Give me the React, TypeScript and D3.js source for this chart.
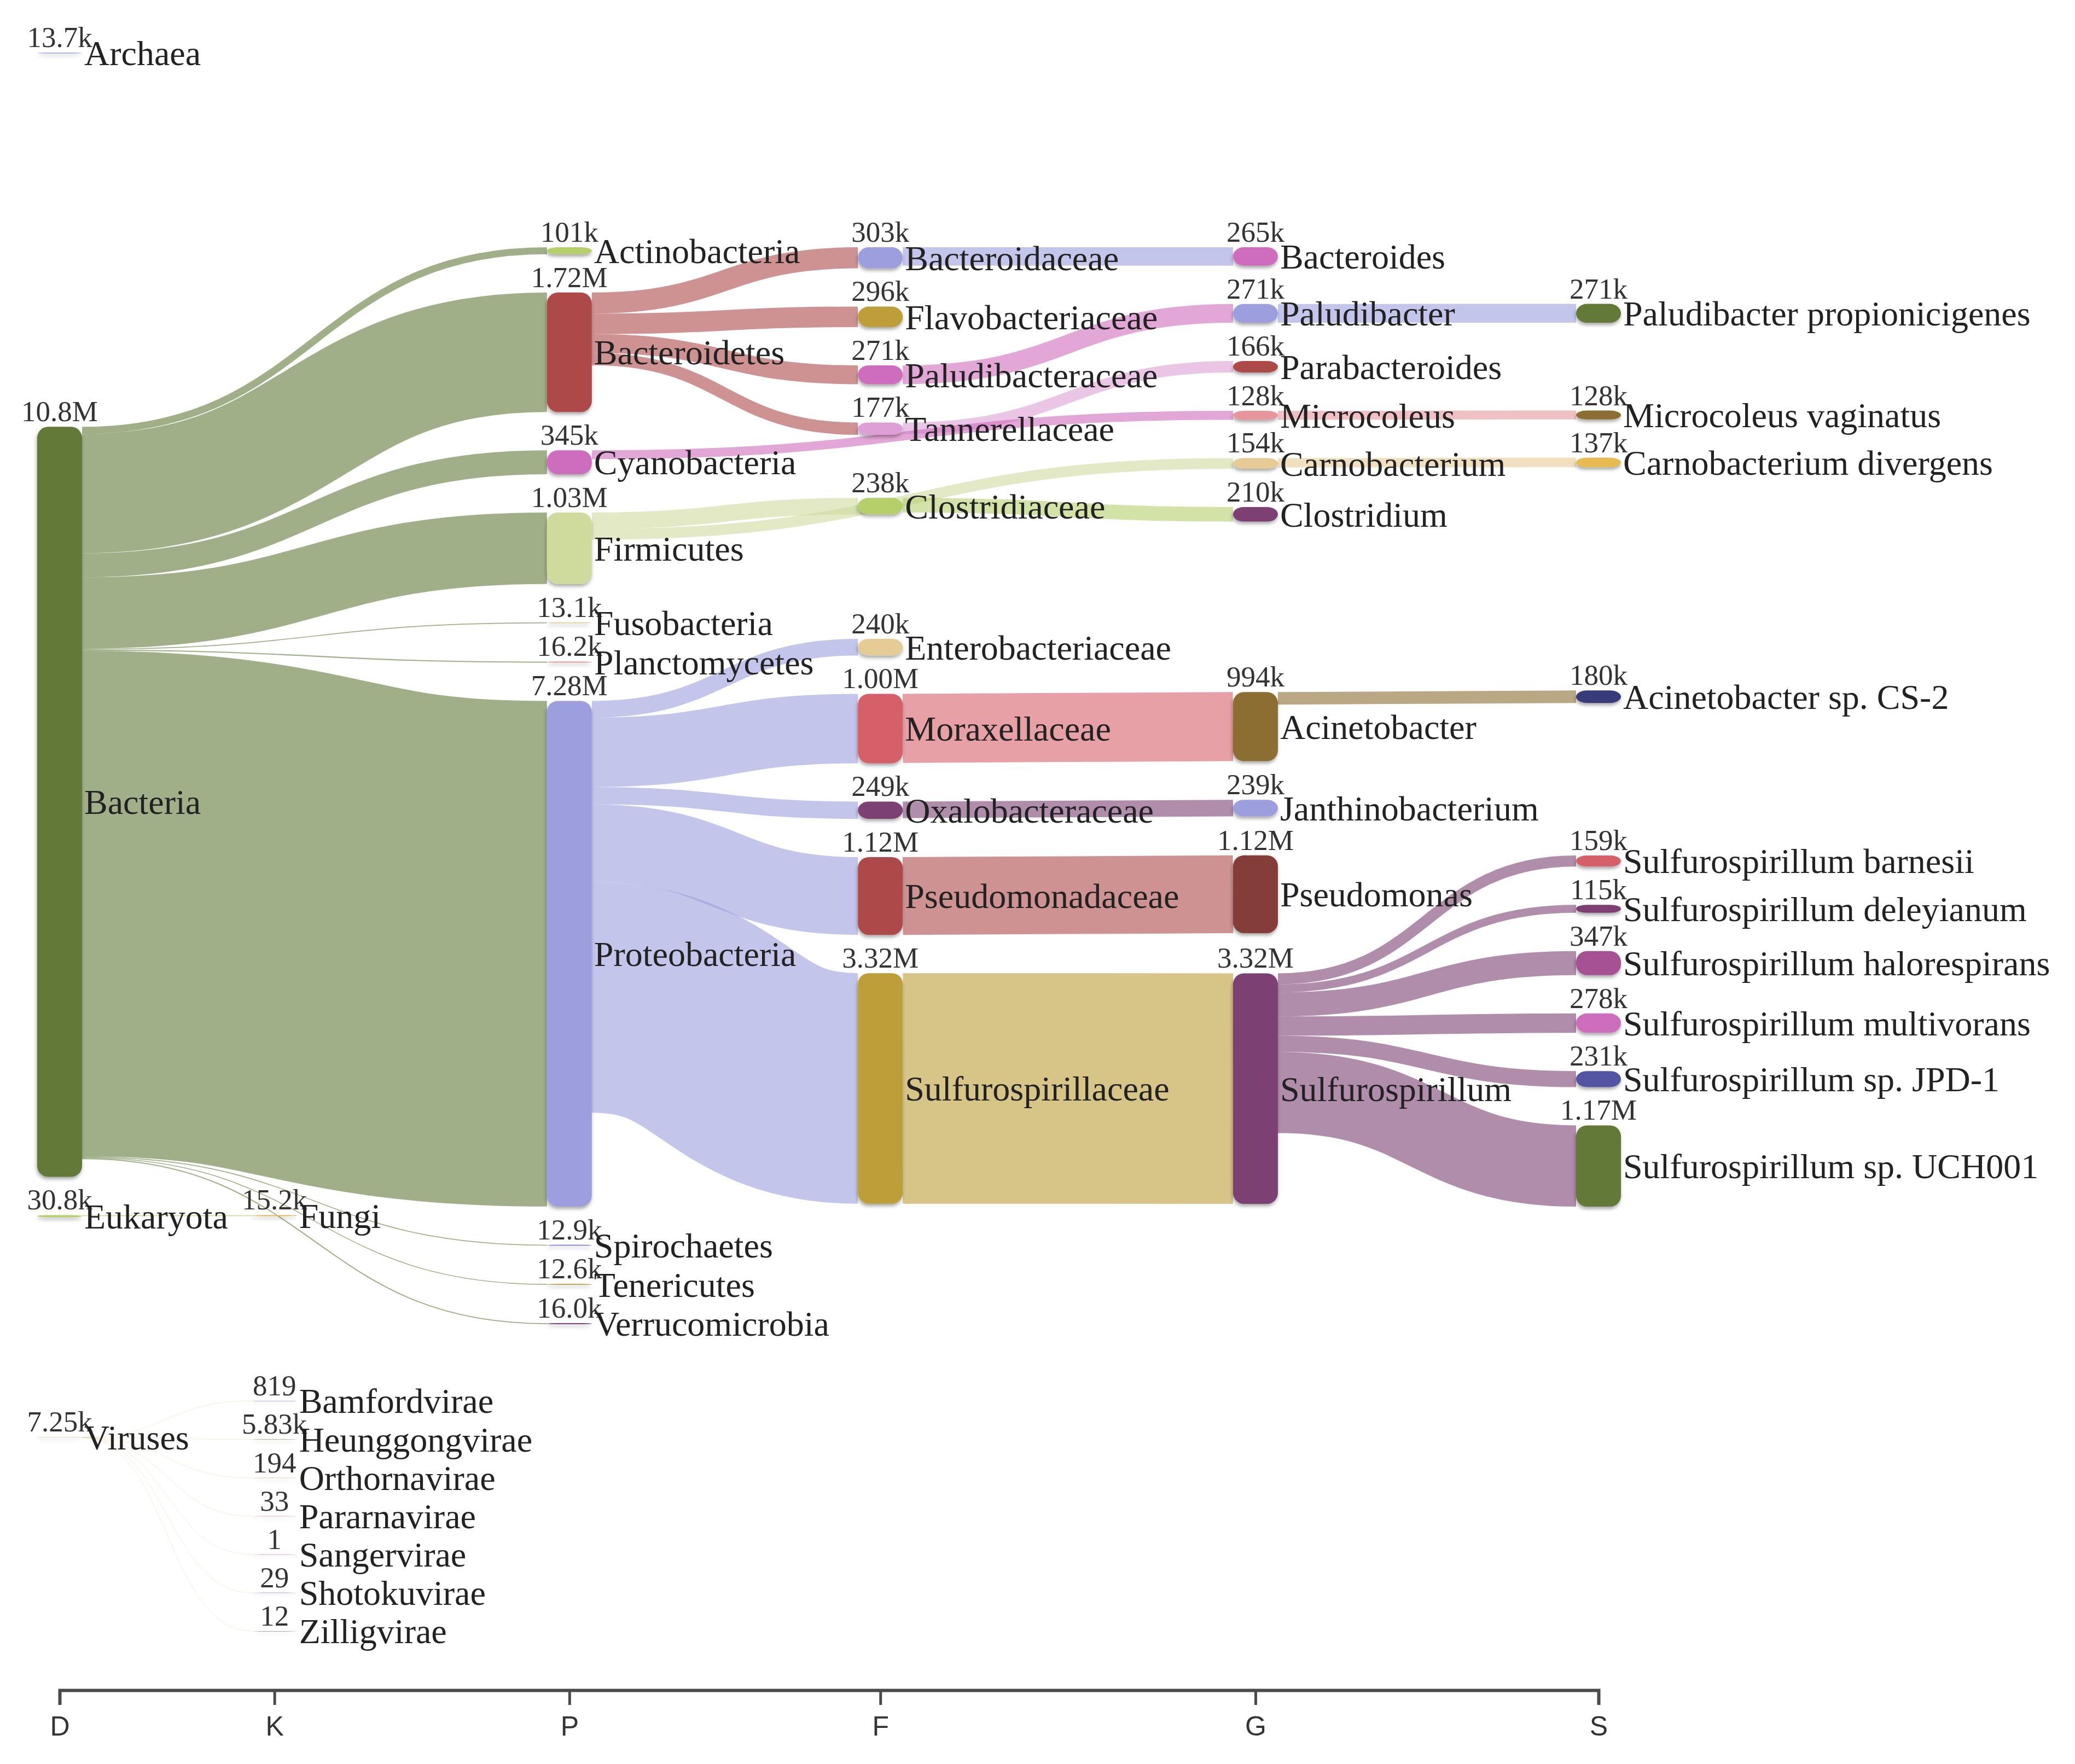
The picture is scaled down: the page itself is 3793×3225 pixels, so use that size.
import { useEffect, useMemo, useRef } from "react";
import * as d3 from "d3";

// Reads per taxon, one list per rank (Pavian-style Kraken report sankey).
const ranks = ["D", "K", "P", "F", "G", "S"];

const domainNames = ["Archaea", "Bacteria", "Eukaryota", "Viruses"];
const domainReads = [13.7e3, 10.8e6, 30.8e3, 7.25e3];

const kingdomNames = [
  "Fungi",
  "Bamfordvirae",
  "Heunggongvirae",
  "Orthornavirae",
  "Pararnavirae",
  "Sangervirae",
  "Shotokuvirae",
  "Zilligvirae",
];
const kingdomReads = [15.2e3, 819, 5.83e3, 194, 33, 1, 29, 12];
const kingdomParents = ["Eukaryota", "Viruses", "Viruses", "Viruses", "Viruses", "Viruses", "Viruses", "Viruses"];

const phylumNames = [
  "Actinobacteria",
  "Bacteroidetes",
  "Cyanobacteria",
  "Firmicutes",
  "Fusobacteria",
  "Planctomycetes",
  "Proteobacteria",
  "Spirochaetes",
  "Tenericutes",
  "Verrucomicrobia",
];
const phylumReads = [101e3, 1.72e6, 345e3, 1.03e6, 13.1e3, 16.2e3, 7.28e6, 12.9e3, 12.6e3, 16.0e3];
const phylumParents = phylumNames.map(() => "Bacteria");

const familyNames = [
  "Bacteroidaceae",
  "Flavobacteriaceae",
  "Paludibacteraceae",
  "Tannerellaceae",
  "Clostridiaceae",
  "Enterobacteriaceae",
  "Moraxellaceae",
  "Oxalobacteraceae",
  "Pseudomonadaceae",
  "Sulfurospirillaceae",
];
const familyReads = [303e3, 296e3, 271e3, 177e3, 238e3, 240e3, 1.0e6, 249e3, 1.12e6, 3.32e6];
const familyParents = [
  "Bacteroidetes",
  "Bacteroidetes",
  "Bacteroidetes",
  "Bacteroidetes",
  "Firmicutes",
  "Proteobacteria",
  "Proteobacteria",
  "Proteobacteria",
  "Proteobacteria",
  "Proteobacteria",
];

const genusNames = [
  "Bacteroides",
  "Paludibacter",
  "Parabacteroides",
  "Microcoleus",
  "Carnobacterium",
  "Clostridium",
  "Acinetobacter",
  "Janthinobacterium",
  "Pseudomonas",
  "Sulfurospirillum",
];
const genusReads = [265e3, 271e3, 166e3, 128e3, 154e3, 210e3, 994e3, 239e3, 1.12e6, 3.32e6];
const genusParents = [
  "Bacteroidaceae",
  "Paludibacteraceae",
  "Tannerellaceae",
  "Cyanobacteria",
  "Firmicutes",
  "Clostridiaceae",
  "Moraxellaceae",
  "Oxalobacteraceae",
  "Pseudomonadaceae",
  "Sulfurospirillaceae",
];

const speciesNames = [
  "Paludibacter propionicigenes",
  "Microcoleus vaginatus",
  "Carnobacterium divergens",
  "Acinetobacter sp. CS-2",
  "Sulfurospirillum barnesii",
  "Sulfurospirillum deleyianum",
  "Sulfurospirillum halorespirans",
  "Sulfurospirillum multivorans",
  "Sulfurospirillum sp. JPD-1",
  "Sulfurospirillum sp. UCH001",
];
const speciesReads = [271e3, 128e3, 137e3, 180e3, 159e3, 115e3, 347e3, 278e3, 231e3, 1.17e6];
const speciesParents = [
  "Paludibacter",
  "Microcoleus",
  "Carnobacterium",
  "Acinetobacter",
  "Sulfurospirillum",
  "Sulfurospirillum",
  "Sulfurospirillum",
  "Sulfurospirillum",
  "Sulfurospirillum",
  "Sulfurospirillum",
];

// old d3 category20b, which d3 v7 no longer ships
const palette = [
  "#393b79", "#5254a3", "#6b6ecf", "#9c9ede", "#637939", "#8ca252", "#b5cf6b", "#cedb9c", "#8c6d31", "#bd9e39",
  "#e7ba52", "#e7cb94", "#843c39", "#ad494a", "#d6616b", "#e7969c", "#7b4173", "#a55194", "#ce6dbd", "#de9ed6",
];
const paletteSlot: Record<string, number> = {
  Archaea: 3, Bacteria: 4, Eukaryota: 6, Viruses: 11,
  Fungi: 10, Bamfordvirae: 2, Heunggongvirae: 5, Orthornavirae: 9, Pararnavirae: 14, Sangervirae: 17, Shotokuvirae: 1, Zilligvirae: 12,
  Actinobacteria: 6, Bacteroidetes: 13, Cyanobacteria: 18, Firmicutes: 7, Fusobacteria: 11, Planctomycetes: 15,
  Proteobacteria: 3, Spirochaetes: 2, Tenericutes: 9, Verrucomicrobia: 16,
  Bacteroidaceae: 3, Flavobacteriaceae: 9, Paludibacteraceae: 18, Tannerellaceae: 19, Clostridiaceae: 6,
  Enterobacteriaceae: 11, Moraxellaceae: 14, Oxalobacteraceae: 16, Pseudomonadaceae: 13, Sulfurospirillaceae: 9,
  Bacteroides: 18, Paludibacter: 3, Parabacteroides: 13, Microcoleus: 15, Carnobacterium: 11, Clostridium: 16,
  Acinetobacter: 8, Janthinobacterium: 3, Pseudomonas: 12, Sulfurospirillum: 16,
  "Paludibacter propionicigenes": 4, "Microcoleus vaginatus": 8, "Carnobacterium divergens": 10,
  "Acinetobacter sp. CS-2": 0, "Sulfurospirillum barnesii": 14, "Sulfurospirillum deleyianum": 16,
  "Sulfurospirillum halorespirans": 17, "Sulfurospirillum multivorans": 18, "Sulfurospirillum sp. JPD-1": 1,
  "Sulfurospirillum sp. UCH001": 4,
};
const colorOf = (name: string) => palette[paletteSlot[name] ?? 0];

const W = 3793;
const H = 3225;
const nodeWidth = 82;
const nodePadding = 70;
const linkSpread = 55; // gap between sibling links when a node fans out
const packTop = 452; // top of the flow band
const scaleHeight = 1969; // the most crowded column is scaled to fill this
const packBottom = 2206; // lower bound used while packing columns
const headerY = 97; // row for domains that have nothing drawn below them
const axisY = 3090;
const iterations = 6;

// columns are spaced by the longest label they carry
const levelNames = [domainNames, kingdomNames, phylumNames, familyNames, genusNames, speciesNames];
const charGap = 4.4;
const colWeights = levelNames.slice(0, -1).map((names) => charGap + (d3.max(names, (n) => n.length) ?? 0));
const colOffsets = [0, ...Array.from(d3.cumsum(colWeights))];
const offsetX = d3.scaleLinear().domain([0, colOffsets[colOffsets.length - 1]]).range([109, 2922]);
const rankX = d3
  .scaleOrdinal<string, number>()
  .domain(ranks)
  .range(colOffsets.map((o) => offsetX(o)));

type SNode = {
  name: string;
  layer: number;
  value: number;
  index: number;
  sourceLinks: SLink[];
  targetLinks: SLink[];
  x0: number;
  x1: number;
  y0: number;
  y1: number;
};

type SLink = {
  source: SNode;
  target: SNode;
  value: number;
  width: number;
  y0: number;
  y1: number;
  index: number;
};

const fmtReads = (v: number) => (v < 1000 ? String(v) : d3.format(".3s")(v));

function buildSankey() {
  const levels = [
    { names: domainNames, reads: domainReads, parents: domainNames.map(() => "") },
    { names: kingdomNames, reads: kingdomReads, parents: kingdomParents },
    { names: phylumNames, reads: phylumReads, parents: phylumParents },
    { names: familyNames, reads: familyReads, parents: familyParents },
    { names: genusNames, reads: genusReads, parents: genusParents },
    { names: speciesNames, reads: speciesReads, parents: speciesParents },
  ];

  const nodes: SNode[] = [];
  const byName = new Map<string, SNode>();
  levels.forEach((level, layer) => {
    level.names.forEach((name, i) => {
      const x0 = rankX(ranks[layer]) - nodeWidth / 2;
      const node: SNode = {
        name,
        layer,
        value: level.reads[i],
        index: nodes.length,
        sourceLinks: [],
        targetLinks: [],
        x0,
        x1: x0 + nodeWidth,
        y0: 0,
        y1: 0,
      };
      nodes.push(node);
      byName.set(name, node);
    });
  });

  // links keep the order they are read in (rank by rank), like sankey.linkSort(null)
  const links: SLink[] = [];
  levels.forEach((level) =>
    level.names.forEach((name, i) => {
      const source = byName.get(level.parents[i]);
      if (!source) return;
      const target = byName.get(name)!;
      const link: SLink = { source, target, value: target.value, width: 0, y0: 0, y1: 0, index: links.length };
      source.sourceLinks.push(link);
      target.targetLinks.push(link);
      links.push(link);
    })
  );

  // split the forest: the big tree is relaxed in the band, single lineages hang
  // under it, a lone domain goes on top, a bushy little tree is listed below
  const rootOf = (n: SNode): SNode => (n.targetLinks.length ? rootOf(n.targetLinks[0].source) : n);
  const trees = d3.group(nodes, rootOf);
  const biggest = d3.greatest(Array.from(trees.keys()), (r) => r.value);
  const inBand = new Set<SNode>();
  const header: SNode[] = [];
  const chains: SNode[][] = [];
  const footer: SNode[][] = [];
  for (const [root, members] of trees) {
    const widest = d3.max(Array.from(d3.rollup(members, (v) => v.length, (n) => n.layer).values())) ?? 1;
    if (members.length === 1) header.push(root);
    else if (root === biggest) members.forEach((n) => inBand.add(n));
    else if (widest === 1) chains.push(members);
    else footer.push(members);
  }

  const columns = ranks
    .map((_, layer) => nodes.filter((n) => inBand.has(n) && n.layer === layer))
    .filter((c) => c.length > 0);
  const ky = d3.min(columns, (c) => (scaleHeight - (c.length - 1) * nodePadding) / d3.sum(c, (n) => n.value)) ?? 1;
  links.forEach((l) => (l.width = l.value * ky));

  const py = nodePadding;
  const y0 = packTop;
  const y1 = packBottom;
  const shift = (n: SNode, dy: number) => {
    n.y0 += dy;
    n.y1 += dy;
  };

  // d3-sankey style relaxation, keeping the given order inside each column
  const targetTop = (source: SNode, target: SNode) => {
    let y = source.y0 - ((source.sourceLinks.length - 1) * linkSpread) / 2;
    for (const l of source.sourceLinks) {
      if (l.target === target) break;
      y += l.width + linkSpread;
    }
    for (const l of target.targetLinks) {
      if (l.source === source) break;
      y -= l.width;
    }
    return y;
  };
  const sourceTop = (source: SNode, target: SNode) => {
    let y = target.y0 - ((target.targetLinks.length - 1) * linkSpread) / 2;
    for (const l of target.targetLinks) {
      if (l.source === source) break;
      y += l.width + linkSpread;
    }
    for (const l of source.sourceLinks) {
      if (l.target === target) break;
      y -= l.width;
    }
    return y;
  };
  const pushDown = (col: SNode[], y: number, i: number, alpha: number) => {
    for (; i < col.length; ++i) {
      const n = col[i];
      const dy = (y - n.y0) * alpha;
      if (dy > 1e-6) shift(n, dy);
      y = n.y1 + py;
    }
  };
  const pushUp = (col: SNode[], y: number, i: number, alpha: number) => {
    for (; i >= 0; --i) {
      const n = col[i];
      const dy = (n.y1 - y) * alpha;
      if (dy > 1e-6) shift(n, -dy);
      y = n.y0 - py;
    }
  };
  const resolveCollisions = (col: SNode[], alpha: number) => {
    const i = col.length >> 1;
    const subject = col[i];
    pushUp(col, subject.y0 - py, i - 1, alpha);
    pushDown(col, subject.y1 + py, i + 1, alpha);
    pushUp(col, y1, col.length - 1, alpha);
    pushDown(col, y0, 0, alpha);
  };

  for (const col of columns) {
    let y = y0;
    for (const n of col) {
      n.y0 = y;
      n.y1 = y + n.value * ky;
      y = n.y1 + py;
    }
    const gap = (y1 - y + py) / (col.length + 1);
    col.forEach((n, i) => shift(n, gap * (i + 1)));
  }

  for (let it = 0; it < iterations; ++it) {
    const alpha = Math.pow(0.99, it);
    const beta = Math.max(1 - alpha, (it + 1) / iterations);
    for (let c = columns.length - 2; c >= 0; --c) {
      for (const source of columns[c]) {
        let y = 0;
        let w = 0;
        for (const l of source.sourceLinks) {
          const v = l.value * (l.target.layer - source.layer);
          y += sourceTop(source, l.target) * v;
          w += v;
        }
        if (!(w > 0)) continue;
        shift(source, (y / w - source.y0) * alpha);
      }
      resolveCollisions(columns[c], beta);
    }
    for (let c = 1; c < columns.length; ++c) {
      for (const target of columns[c]) {
        let y = 0;
        let w = 0;
        for (const l of target.targetLinks) {
          const v = l.value * (target.layer - l.source.layer);
          y += targetTop(l.source, target) * v;
          w += v;
        }
        if (!(w > 0)) continue;
        shift(target, (y / w - target.y0) * alpha);
      }
      resolveCollisions(columns[c], beta);
    }
  }

  // single lineages: one padding under whatever the band already holds in that column
  for (const chain of chains) {
    chain.sort((a, b) => a.layer - b.layer);
    for (const n of chain) {
      const above = d3.max(Array.from(inBand).filter((m) => m.layer === n.layer), (m) => m.y1);
      const floor = above === undefined ? y0 : above + py;
      const parent = n.targetLinks.length ? n.targetLinks[0].source : null;
      n.y0 = Math.max(floor, parent ? parent.y0 : floor);
      n.y1 = n.y0 + n.value * ky;
      inBand.add(n);
    }
  }

  header.forEach((n) => {
    const h = n.value * ky;
    n.y0 = headerY - h / 2;
    n.y1 = n.y0 + h;
  });

  let y = (d3.max(Array.from(inBand), (n) => n.y1) ?? y1) + 2 * nodePadding;
  for (const members of footer) {
    const deepest = d3.max(members, (n) => n.layer) ?? 0;
    for (const n of members.filter((m) => m.layer === deepest)) {
      n.y0 = y;
      n.y1 = y + n.value * ky;
      y = n.y1 + nodePadding;
    }
    for (let layer = deepest - 1; layer >= 0; --layer) {
      for (const n of members.filter((m) => m.layer === layer)) {
        let acc = 0;
        let w = 0;
        let above = 0;
        for (const l of n.sourceLinks) {
          acc += (l.target.y0 - above) * l.value;
          w += l.value;
          above += l.width;
        }
        n.y0 = acc / w;
        n.y1 = n.y0 + n.value * ky;
      }
    }
  }

  for (const n of nodes) {
    let a = n.y0;
    let b = n.y0;
    for (const l of n.sourceLinks) {
      l.y0 = a + l.width / 2;
      a += l.width;
    }
    for (const l of n.targetLinks) {
      l.y1 = b + l.width / 2;
      b += l.width;
    }
  }
  return { nodes, links };
}

const linkPath = d3
  .linkHorizontal<SLink, [number, number]>()
  .source((l) => [l.source.x1, l.y0])
  .target((l) => [l.target.x0, l.y1]);

export default function App() {
  const axisRef = useRef<SVGGElement | null>(null);
  const { nodes, links } = useMemo(buildSankey, []);

  useEffect(() => {
    if (!axisRef.current) return;
    const g = d3.select(axisRef.current);
    g.selectAll("*").remove();
    g.call(d3.axisBottom(rankX as any).tickSize(27).tickPadding(20) as any);
    g.select(".domain").attr("stroke", "#4a4a4a").attr("stroke-width", 6);
    g.selectAll(".tick line").attr("stroke", "#4a4a4a").attr("stroke-width", 5);
    g.selectAll(".tick text")
      .attr("font-size", 50)
      .attr("font-family", "'Liberation Sans', Arial, sans-serif")
      .attr("fill", "#333");
  }, []);

  return (
    <svg
      width={W}
      height={H}
      style={{ position: "absolute", left: 0, top: 0, background: "#fff" }}
      fontFamily="'Liberation Serif', 'Times New Roman', serif"
    >
      <defs>
        <filter id="nodeShadow" filterUnits="userSpaceOnUse" x={0} y={0} width={W} height={H}>
          <feDropShadow dx={-1} dy={4} stdDeviation={3} floodColor="#000" floodOpacity={0.35} />
        </filter>
      </defs>

      <g>
        {links.map((l) => (
          <path
            key={l.index}
            d={linkPath(l) ?? ""}
            fill="none"
            stroke={colorOf(l.source.name)}
            strokeOpacity={0.6}
            strokeWidth={Math.max(0.6, l.width)}
          />
        ))}
      </g>

      <g filter="url(#nodeShadow)">
        {nodes.map((n) => (
          <rect
            key={n.index}
            x={n.x0}
            y={n.y0}
            width={nodeWidth}
            height={Math.max(0.5, n.y1 - n.y0)}
            rx={20}
            fill={colorOf(n.name)}
          />
        ))}
      </g>

      <g fill="#333" fontSize={53} textAnchor="middle">
        {nodes.map((n) => (
          <text key={n.index} x={(n.x0 + n.x1) / 2} y={n.y0 - 10}>
            {fmtReads(n.value)}
          </text>
        ))}
      </g>

      <g fill="#222" fontSize={64}>
        {nodes.map((n) => (
          <text key={n.index} x={n.x1 + 4} y={(n.y0 + n.y1) / 2} dy="0.35em">
            {n.name}
          </text>
        ))}
      </g>

      <g ref={axisRef} transform={`translate(0,${axisY})`} />
    </svg>
  );
}
